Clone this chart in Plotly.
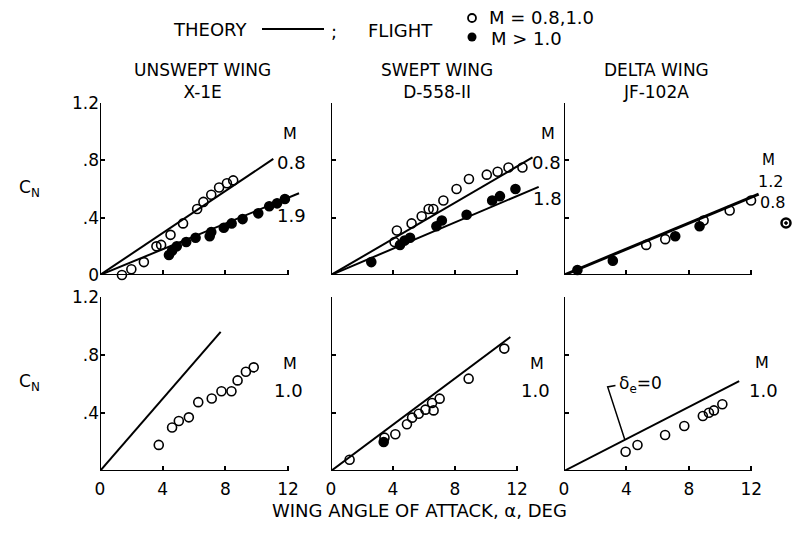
import plotly.graph_objects as go

W, H = 796, 533
FONT = "DejaVu Sans"

# ---------------- data ----------------
# Top-left: unswept wing X-1E
x1e_open_x = [1.4, 2.0, 2.8, 3.6, 3.9, 4.5, 5.3, 6.2, 6.6, 7.1, 7.6, 8.1, 8.5]
x1e_open_y = [0.0, 0.04, 0.09, 0.20, 0.21, 0.28, 0.36, 0.46, 0.51, 0.56, 0.61, 0.64, 0.66]
x1e_fill_x = [4.4, 4.6, 4.9, 5.5, 6.1, 7.0, 7.1, 7.9, 8.4, 9.1, 10.1, 10.8, 11.3, 11.8]
x1e_fill_y = [0.14, 0.17, 0.20, 0.23, 0.26, 0.27, 0.30, 0.33, 0.36, 0.39, 0.43, 0.48, 0.50, 0.53]
x1e_th08_x = [0, 11.06]
x1e_th08_y = [0, 0.81]
x1e_th19_x = [0, 12.7]
x1e_th19_y = [0, 0.57]

# Top-middle: swept wing D-558-II
d558_open_x = [4.1, 4.25, 5.2, 5.85, 6.3, 6.6, 7.25, 8.1, 8.9, 10.05, 10.75, 11.45, 12.35]
d558_open_y = [0.23, 0.31, 0.36, 0.41, 0.46, 0.46, 0.52, 0.60, 0.67, 0.70, 0.72, 0.75, 0.75]
d558_fill_x = [2.6, 4.45, 4.75, 5.1, 6.8, 7.15, 8.75, 10.4, 10.9, 11.9]
d558_fill_y = [0.09, 0.21, 0.24, 0.26, 0.34, 0.38, 0.42, 0.52, 0.55, 0.60]
d558_th08_x = [0, 13.0]
d558_th08_y = [0, 0.82]
d558_th18_x = [0, 13.4]
d558_th18_y = [0, 0.615]

# Top-right: delta wing JF-102A
jf_open_x = [5.27, 6.49, 8.95, 10.62, 11.99]
jf_open_y = [0.21, 0.25, 0.38, 0.45, 0.52]
jf_fill_x = [0.86, 3.13, 7.13, 8.69]
jf_fill_y = [0.035, 0.10, 0.27, 0.34]
jf_th_x = [0, 12.48]
jf_th_y = [0, 0.564]

# Bottom-left: X-1E, M = 1.0
x1e10_open_x = [3.75, 4.6, 5.03, 5.67, 6.27, 7.13, 7.75, 8.39, 8.78, 9.31, 9.81]
x1e10_open_y = [0.18, 0.30, 0.345, 0.37, 0.475, 0.50, 0.55, 0.55, 0.625, 0.685, 0.715]
x1e10_th_x = [0, 7.7]
x1e10_th_y = [0, 0.96]

# Bottom-middle: D-558-II, M = 1.0
d55810_open_x = [1.2, 3.45, 4.15, 4.9, 5.23, 5.66, 6.09, 6.52, 6.62, 7.01, 8.88, 11.18]
d55810_open_y = [0.078, 0.23, 0.253, 0.322, 0.368, 0.395, 0.423, 0.469, 0.418, 0.499, 0.637, 0.844]
d55810_fill_x = [3.4]
d55810_fill_y = [0.20]
d55810_th_x = [0, 11.57]
d55810_th_y = [0, 0.924]

# Bottom-right: JF-102A, M = 1.0
jf10_open_x = [3.95, 4.71, 6.48, 7.71, 8.9, 9.29, 9.61, 10.15]
jf10_open_y = [0.133, 0.179, 0.248, 0.31, 0.379, 0.402, 0.418, 0.46]
jf10_th_x = [0, 11.23]
jf10_th_y = [0, 0.62]

x_tickvals = [0, 4, 8, 12]
x_ticktext = ["0", "4", "8", "12"]
y_tickvals = [0, 0.4, 0.8, 1.2]
y_ticktext = ["0", ".4", ".8", "1.2"]

# ---------------- layout geometry (pixels) ----------------
XMAX = 13.5
cols = [(100, 15.67), (331, 15.5), (564, 15.6)]   # origin px, px per unit
rows = [(275, 103), (471, 297)]                    # y=0 px, y=1.2 px

fig = go.Figure()
lay = {}
shapes = []
ann = []

def axname(i):
    return "" if i == 1 else str(i)

idx = 0
for r, (y0p, y1p) in enumerate(rows):
    for c, (x0p, ppu) in enumerate(cols):
        idx += 1
        n = axname(idx)
        xax = dict(
            domain=[x0p / W, (x0p + XMAX * ppu) / W], range=[0, XMAX],
            anchor="y" + n, showgrid=False, zeroline=False, showline=False,
            tickmode="array", ticks="inside", ticklen=5, tickwidth=2,
            tickcolor="black",
            tickfont=dict(family=FONT, size=17, color="black"),
        )
        if r == 1:
            xax.update(tickvals=x_tickvals, ticktext=x_ticktext, showticklabels=True,
                       ticklabelstandoff=6)
        else:
            xax.update(tickvals=x_tickvals[1:], showticklabels=False)
        lay["xaxis" + n] = xax

        yax = dict(
            domain=[1 - y0p / H, 1 - y1p / H], range=[0, 1.2],
            anchor="x" + n, showgrid=False, zeroline=False, showline=False,
            tickmode="array", ticks="inside", ticklen=5, tickwidth=2,
            tickcolor="black",
            tickfont=dict(family=FONT, size=17, color="black"),
        )
        if c == 0 and r == 0:
            yax.update(tickvals=y_tickvals, ticktext=y_ticktext, showticklabels=True)
        elif c == 0:
            yax.update(tickvals=y_tickvals[1:], ticktext=y_ticktext[1:], showticklabels=True)
        else:
            yax.update(tickvals=y_tickvals[1:], showticklabels=False)
        lay["yaxis" + n] = yax

        xr, yr = "x" + n, "y" + n
        shapes.append(dict(type="line", xref=xr, yref=yr, x0=0, y0=0, x1=12.05, y1=0,
                           line=dict(color="black", width=2)))
        shapes.append(dict(type="line", xref=xr, yref=yr, x0=0, y0=0, x1=0, y1=1.2,
                           line=dict(color="black", width=2)))

def line(x, y, k, w=2):
    n = axname(k)
    fig.add_trace(go.Scatter(x=x, y=y, mode="lines", xaxis="x" + n, yaxis="y" + n,
                             line=dict(color="black", width=w), showlegend=False,
                             hoverinfo="skip"))

def pts(x, y, k, filled):
    n = axname(k)
    fig.add_trace(go.Scatter(
        x=x, y=y, mode="markers", xaxis="x" + n, yaxis="y" + n, cliponaxis=False,
        marker=dict(symbol="circle" if filled else "circle-open", size=9,
                    color="black", line=dict(color="black", width=1.6)),
        showlegend=False))

# panel 1
line(x1e_th08_x, x1e_th08_y, 1)
line(x1e_th19_x, x1e_th19_y, 1)
pts(x1e_open_x, x1e_open_y, 1, False)
pts(x1e_fill_x, x1e_fill_y, 1, True)
# panel 2
line(d558_th08_x, d558_th08_y, 2)
line(d558_th18_x, d558_th18_y, 2)
pts(d558_open_x, d558_open_y, 2, False)
pts(d558_fill_x, d558_fill_y, 2, True)
# panel 3
line(jf_th_x, jf_th_y, 3, w=3)
pts(jf_open_x, jf_open_y, 3, False)
pts(jf_fill_x, jf_fill_y, 3, True)
# panel 4
line(x1e10_th_x, x1e10_th_y, 4)
pts(x1e10_open_x, x1e10_open_y, 4, False)
# panel 5
line(d55810_th_x, d55810_th_y, 5)
pts(d55810_fill_x, d55810_fill_y, 5, True)
pts(d55810_open_x, d55810_open_y, 5, False)
# panel 6
line(jf10_th_x, jf10_th_y, 6)
pts(jf10_open_x, jf10_open_y, 6, False)

# delta_e leader line (panel 6)
shapes.append(dict(type="path", xref="x6", yref="y6",
                   path="M 3.9,0.215 L 2.8,0.58 L 3.3,0.59",
                   line=dict(color="black", width=1.5)))

# ---------------- overlay axis in pixel coordinates for decorations -------------
lay["xaxis7"] = dict(domain=[0, 1], range=[0, W], visible=False, anchor="y7", fixedrange=True)
lay["yaxis7"] = dict(domain=[0, 1], range=[H, 0], visible=False, anchor="x7", fixedrange=True)

fig.add_trace(go.Scatter(x=[472], y=[18], xaxis="x7", yaxis="y7", mode="markers",
                         marker=dict(symbol="circle-open", size=8, color="black",
                                     line=dict(color="black", width=1.8)),
                         showlegend=False, hoverinfo="skip"))
fig.add_trace(go.Scatter(x=[472], y=[37], xaxis="x7", yaxis="y7", mode="markers",
                         marker=dict(symbol="circle", size=9, color="black"),
                         showlegend=False, hoverinfo="skip"))
fig.add_trace(go.Scatter(x=[786], y=[223], xaxis="x7", yaxis="y7", mode="markers",
                         cliponaxis=False,
                         marker=dict(symbol="circle-open-dot", size=9, color="black",
                                     line=dict(color="black", width=2.5)),
                         showlegend=False, hoverinfo="skip"))
shapes.append(dict(type="line", xref="x7", yref="y7", x0=262, y0=29, x1=324, y1=29,
                   line=dict(color="black", width=2)))

def txt(s, x, y, size=17, xanchor="center"):
    ann.append(dict(text=s, x=x, y=y, xref="x7", yref="y7", showarrow=False,
                    xanchor=xanchor, yanchor="middle",
                    font=dict(family=FONT, size=size, color="black")))

txt("THEORY", 210, 29, 18)
txt(";", 334, 31, 18)
txt("FLIGHT", 400, 30, 18)
txt("M = 0.8,1.0", 487, 17, 18, "left")
txt("M > 1.0", 489, 38, 18, "left")

txt("UNSWEPT WING<br>X-1E", 202, 81, 17)
txt("SWEPT WING<br>D-558-II", 437, 81, 17)
txt("DELTA WING<br>JF-102A", 656, 81, 17)

txt("C<sub>N</sub>", 29, 188, 17)
txt("C<sub>N</sub>", 29, 382, 17)

# Mach labels
txt("M", 290, 133, 16)
txt("0.8", 291, 162, 18)
txt("1.9", 291, 215, 18)
txt("M", 548, 133, 16)
txt("0.8", 546, 162, 18)
txt("1.8", 547, 198, 18)
txt("M", 768, 160, 15)
txt("1.2", 770, 181, 16)
txt("0.8", 772, 202, 16)
txt("M", 290, 363, 16)
txt("1.0", 288, 390, 18)
txt("M", 537, 363, 16)
txt("1.0", 535, 390, 18)
txt("M", 762, 362, 16)
txt("1.0", 763, 390, 18)
txt("δ<sub>e</sub>=0", 640, 384, 17)

txt("WING ANGLE OF ATTACK, α, DEG", 419, 510, 18)

fig.update_layout(
    width=W, height=H, margin=dict(l=0, r=0, t=0, b=0, pad=0, autoexpand=False),
    paper_bgcolor="white", plot_bgcolor="rgba(0,0,0,0)",
    showlegend=False, shapes=shapes, annotations=ann,
    font=dict(family=FONT, color="black"),
    **lay,
)

fig.write_html("out.html")
